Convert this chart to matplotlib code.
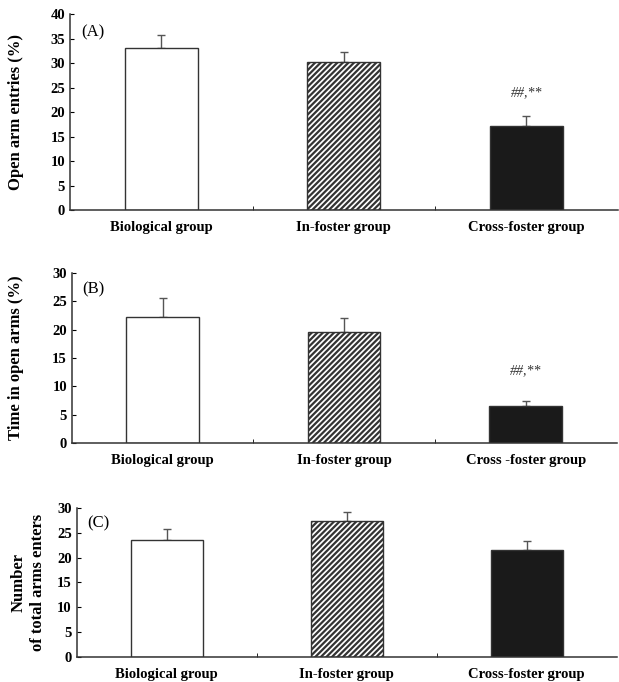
import matplotlib
matplotlib.use('Agg')
import matplotlib.pyplot as plt
import matplotlib.transforms as mtransforms
import numpy as np

plt.rcParams.update(
    {
        'font.family': ['Liberation Serif', 'DejaVu Serif'],
        'hatch.linewidth': 1.6,
    }
)

groups = ['Biological group', 'In-foster group', 'Cross-foster group']

# Panel A: open arm entries (%)
entries_mean = [33.2, 30.3, 17.2]
entries_err = [2.5, 2.0, 2.0]
# Panel B: time in open arms (%)
time_mean = [22.2, 19.5, 6.6]
time_err = [3.3, 2.5, 0.9]
# Panel C: total arm entries
total_mean = [23.5, 27.3, 21.5]
total_err = [2.3, 2.0, 1.8]

panels = [
    dict(mean=entries_mean, err=entries_err, ymax=40, step=5, tag='(A)',
         ylabel='Open arm entries (%)', note=22.6, labx=0.026,
         xlabels=['Biological group', 'In-foster group', 'Cross-foster group'],
         rect=[0.113, 0.692, 0.885, 0.287]),
    dict(mean=time_mean, err=time_err, ymax=30, step=5, tag='(B)',
         ylabel='Time in open arms (%)', note=11.6, labx=0.026,
         xlabels=['Biological group', 'In-foster group', 'Cross -foster group'],
         rect=[0.116, 0.350, 0.880, 0.250]),
    dict(mean=total_mean, err=total_err, ymax=30, step=5, tag='(C)',
         ylabel='Number\nof total arms enters', note=None, labx=0.046,
         xlabels=['Biological group', 'In-foster group', 'Cross-foster group'],
         rect=[0.124, 0.037, 0.872, 0.218]),
]

fig = plt.figure(figsize=(6.19, 6.82), dpi=100)
x = np.arange(len(groups))

for p in panels:
    ax = fig.add_axes(p['rect'])
    faces = ['white', 'white', '#1a1a1a']
    hatches = ['', '//////', '']
    for i in range(len(groups)):
        ax.bar(x[i], p['mean'][i], width=0.4, color=faces[i],
               edgecolor='#333333', linewidth=1.0, hatch=hatches[i],
               zorder=2)
        ax.errorbar(x[i], p['mean'][i], yerr=[[0], [p['err'][i]]],
                    fmt='none', ecolor='#555555', elinewidth=1.0,
                    capsize=3, capthick=1.0, zorder=1)
    if p['note'] is not None:
        ax.text(x[2], p['note'], '##,**', ha='center', va='bottom',
                fontsize=10, style='italic', color='#333333')

    ax.set_xlim(-0.5, 2.5)
    ax.set_ylim(0, p['ymax'])
    ax.set_yticks(np.arange(0, p['ymax'] + 1, p['step']))
    ax.set_xticks(x)
    ax.set_xticklabels(p['xlabels'], fontweight='bold', fontsize=10.5)
    ax.set_xticks([0.5, 1.5], minor=True)
    ax.tick_params(axis='x', which='major', length=0, pad=8)
    ax.tick_params(axis='x', which='minor', length=3, direction='in')
    ax.tick_params(axis='y', direction='in', length=3, labelsize=10.5)
    for lab in ax.get_yticklabels():
        lab.set_fontweight('bold')

    for side in ['top', 'right']:
        ax.spines[side].set_visible(False)
    for side in ['left', 'bottom']:
        ax.spines[side].set_linewidth(1.1)
        ax.spines[side].set_color('#333333')

    ax.set_ylabel(p['ylabel'], fontweight='bold', fontsize=12,
                  linespacing=1.3)
    trans = mtransforms.blended_transform_factory(fig.transFigure, ax.transAxes)
    ax.yaxis.set_label_coords(p['labx'], 0.5, transform=trans)
    ax.yaxis.label.set_verticalalignment('center')
    ax.text(0.02, 0.95, p['tag'], transform=ax.transAxes, fontsize=12,
            ha='left', va='top')

fig.savefig('out.png', dpi=100, facecolor='white')
